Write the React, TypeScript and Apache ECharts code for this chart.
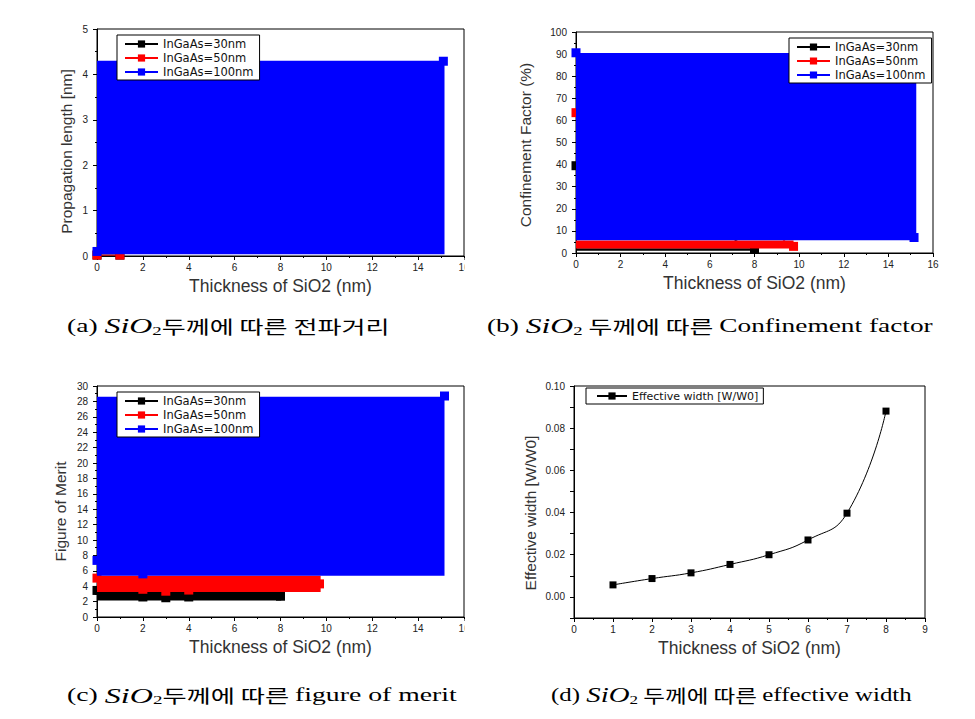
import React, { useEffect, useRef } from 'react';
import * as echarts from 'echarts';

// ---------- data ----------
const SERIES_NAMES = ['InGaAs=30nm', 'InGaAs=50nm', 'InGaAs=100nm'];
const SERIES_COLORS = ['#000000', '#ff0000', '#0000ff'];
const X_NAME = 'Thickness of SiO2 (nm)';
const Y_NAMES = ['Propagation length [nm]', 'Confinement Factor (%)', 'Figure of Merit', 'Effective width [W/W0]'];
const D_NAME = 'Effective width [W/W0]';

// filled blocks [x0, y0, x1, y1]
const aFill30: number[][] = [];
const aFill50: number[][] = [];
const aFill100 = [[0, 0.04, 15.15, 4.3]];
const aPts30 = [[0, 0.02], [1, 0.02]];
const aPts50 = [[0, 0.02], [1, 0.02]];
const aPts100 = [[0, 0.1], [15.1, 4.29]];

const bFill30 = [[0, 1.0, 8.0, 2.2]];
const bFill50 = [[0, 2.0, 9.75, 5.6]];
const bFill100 = [[0, 5.8, 15.25, 90.5]];
const bPts30 = [[0, 39.5], [8.0, 1.7]];
const bPts50 = [[0, 63.5], [9.75, 3.0]];
const bPts100 = [[0, 90.6], [15.15, 7.0]];

const cFill30 = [[0, 2.15, 8.03, 3.25]];
const cFill50 = [[0, 3.25, 9.75, 5.35]];
const cFill100 = [[0, 5.35, 15.15, 28.6]];
const cPts30 = [[0, 3.45], [2, 2.6], [3, 2.5], [4, 2.6], [8, 2.7]];
const cPts50 = [[0, 5.05], [2, 3.6], [3, 3.35], [4, 3.5], [9.7, 4.3]];
const cPts100 = [[0, 7.35], [2, 5.6], [15.15, 28.7]];

const dThickness = [1, 2, 3, 4, 5, 6, 7, 8];
const dWidth = [0.0057, 0.0087, 0.0114, 0.0154, 0.02, 0.027, 0.0397, 0.0881];

const CAP_A = '{p|(a) }{i|SiO}{s|2}{k|두께에 따른 전파거리}';
const CAP_B = '{p|(b) }{i|SiO}{s|2}{k| 두께에 따른 }{p|Confinement factor}';
const CAP_C = '{p|(c) }{i|SiO}{s|2}{k|두께에 따른 }{p|figure of merit}';
const CAP_D = '{p|(d) }{i|SiO}{s|2}{k| 두께에 따른 }{p|effective width}';

// ---------- helpers ----------
const LABEL_FONT = 'Liberation Sans, Arial, sans-serif';

function xAxisFor(gi: number, max: number, interval: number) {
  return {
    gridIndex: gi,
    type: 'value',
    min: 0,
    max,
    interval,
    axisLine: { show: true, onZero: false, lineStyle: { color: '#000', width: 1 } },
    axisTick: { show: true, inside: false, length: 4, lineStyle: { color: '#000' } },
    minorTick: { show: true, splitNumber: 2, length: 2, lineStyle: { color: '#000' } },
    splitLine: { show: false },
    minorSplitLine: { show: false },
    axisLabel: { fontSize: 10, color: '#222', fontFamily: LABEL_FONT, margin: 6 },
    name: X_NAME,
    nameLocation: 'middle',
    nameGap: 21,
    nameTextStyle: { fontSize: 17.5, color: '#333', fontFamily: LABEL_FONT },
  };
}

function yAxisFor(gi: number, min: number, max: number, interval: number, nameGap: number, shift: number, minor: boolean, fmt?: (v: number) => string) {
  return {
    gridIndex: gi,
    type: 'value',
    min,
    max,
    interval,
    axisLine: { show: true, onZero: false, lineStyle: { color: '#000', width: 1 } },
    axisTick: { show: true, inside: false, length: 4, lineStyle: { color: '#000' } },
    minorTick: { show: minor, splitNumber: 2, length: 2, lineStyle: { color: '#000' } },
    splitLine: { show: false },
    minorSplitLine: { show: false },
    axisLabel: { fontSize: 10, color: '#222', fontFamily: LABEL_FONT, margin: 9, formatter: fmt },
    name: Y_NAMES[gi],
    nameLocation: 'middle',
    nameGap,
    nameTextStyle: { fontSize: 15.5, color: '#333', fontFamily: LABEL_FONT, padding: [0, shift, 0, 0] },
  };
}

function rectSeries(gi: number, data: number[][], color: string, z: number) {
  return {
    type: 'custom',
    xAxisIndex: gi,
    yAxisIndex: gi,
    silent: true,
    z,
    data,
    encode: { x: [0, 2], y: [1, 3] },
    renderItem: (_params: any, api: any) => {
      const p0 = api.coord([api.value(0), api.value(1)]);
      const p1 = api.coord([api.value(2), api.value(3)]);
      return {
        type: 'rect',
        shape: { x: p0[0], y: p1[1], width: p1[0] - p0[0], height: p0[1] - p1[1] },
        style: { fill: color },
      };
    },
  };
}

function pointSeries(gi: number, idx: number, data: number[][], z: number) {
  const color = SERIES_COLORS[idx];
  return {
    type: 'line',
    name: SERIES_NAMES[idx],
    xAxisIndex: gi,
    yAxisIndex: gi,
    z,
    data,
    symbol: 'rect',
    symbolSize: 9,
    showSymbol: true,
    clip: false,
    lineStyle: { color, width: 1 },
    itemStyle: { color },
  };
}

const legendBase = {
  orient: 'vertical',
  selectedMode: false,
  z: 20,
  backgroundColor: '#fff',
  borderColor: '#000',
  borderWidth: 1,
  borderRadius: 0,
  padding: [2, 6, 1, 7],
  itemGap: 0,
  itemWidth: 33,
  itemHeight: 9,
  textStyle: { fontSize: 11.5, fontFamily: 'DejaVu Sans', color: '#111', lineHeight: 14 },
};

const capRich = {
  p: { fontFamily: 'Liberation Serif', fontSize: 19, color: '#222' },
  i: { fontFamily: 'Liberation Serif', fontStyle: 'italic', fontSize: 22, color: '#222' },
  s: { fontFamily: 'Liberation Serif', fontSize: 13, color: '#222', verticalAlign: 'bottom', lineHeight: 12 },
  k: { fontFamily: 'Noto Sans CJK KR', fontSize: 18, color: '#3a3a3a' },
};

export default function App() {
  const ref = useRef<HTMLDivElement>(null);
  useEffect(() => {
    if (!ref.current) return;
    const chart = echarts.init(ref.current, null, { renderer: 'svg' });
    const sets = [
      [aFill30, aPts30, aFill50, aPts50, aFill100, aPts100],
      [bFill30, bPts30, bFill50, bPts50, bFill100, bPts100],
      [cFill30, cPts30, cFill50, cPts50, cFill100, cPts100],
    ];
    const series: any[] = [];
    sets.forEach((s, gi) => {
      for (let k = 0; k < 3; k++) {
        series.push(rectSeries(gi, s[k * 2] as number[][], SERIES_COLORS[k], 2 + k * 2));
        series.push(pointSeries(gi, k, s[k * 2 + 1] as number[][], 3 + k * 2));
      }
    });
    series.push({
      type: 'line',
      name: D_NAME,
      xAxisIndex: 3,
      yAxisIndex: 3,
      data: dThickness.map((x, i) => [x, dWidth[i]]),
      smooth: 0.5,
      symbol: 'rect',
      symbolSize: 7,
      lineStyle: { color: '#000', width: 1 },
      itemStyle: { color: '#000' },
    });

    const gridBase = { show: true, borderColor: '#000', borderWidth: 1, backgroundColor: 'transparent', containLabel: false };
    chart.setOption({
      animation: false,
      backgroundColor: '#fff',
      grid: [
        { ...gridBase, left: 97, top: 29, width: 367, height: 227 },
        { ...gridBase, left: 576, top: 32, width: 357, height: 221 },
        { ...gridBase, left: 97, top: 386, width: 367, height: 231 },
        { ...gridBase, left: 574, top: 386, width: 351, height: 232 },
      ],
      xAxis: [xAxisFor(0, 16, 2), xAxisFor(1, 16, 2), xAxisFor(2, 16, 2), xAxisFor(3, 9, 1)],
      yAxis: [
        yAxisFor(0, 0, 5, 1, 23, 18, true),
        yAxisFor(1, 0, 100, 10, 43, 5, true),
        yAxisFor(2, 0, 30, 2, 29, 20, true),
        yAxisFor(3, -0.01, 0.1, 0.01, 36, 22, false, (v: number) => (Math.round(v * 100) % 2 === 0 ? v.toFixed(2) : '')),
      ],
      legend: [
        { ...legendBase, left: 117, top: 35, data: SERIES_NAMES },
        { ...legendBase, left: 789, top: 38, data: SERIES_NAMES },
        { ...legendBase, left: 117, top: 392, data: SERIES_NAMES },
        { ...legendBase, left: 586, top: 388, padding: [1, 5, 1, 10], itemWidth: 30, textStyle: { ...legendBase.textStyle, fontSize: 11 }, data: [D_NAME] },
      ],
      graphic: [
        { type: 'rect', z: 100, shape: { x: 464.5, y: 258, width: 25, height: 20 }, style: { fill: '#fff' } },
        { type: 'rect', z: 100, shape: { x: 464.5, y: 619, width: 25, height: 20 }, style: { fill: '#fff' } },
        { type: 'text', x: 67, y: 326, scaleX: 1.45, style: { text: CAP_A, rich: capRich, verticalAlign: 'middle', align: 'left' } },
        { type: 'text', x: 487, y: 326, scaleX: 1.44, style: { text: CAP_B, rich: capRich, verticalAlign: 'middle', align: 'left' } },
        { type: 'text', x: 67, y: 695, scaleX: 1.46, style: { text: CAP_C, rich: capRich, verticalAlign: 'middle', align: 'left' } },
        { type: 'text', x: 551, y: 695, scaleX: 1.31, style: { text: CAP_D, rich: capRich, verticalAlign: 'middle', align: 'left' } },
      ],
      series,
    });
    return () => chart.dispose();
  }, []);
  return <div ref={ref} style={{ position: 'fixed', left: 0, top: 0, width: 975, height: 719 }} />;
}
